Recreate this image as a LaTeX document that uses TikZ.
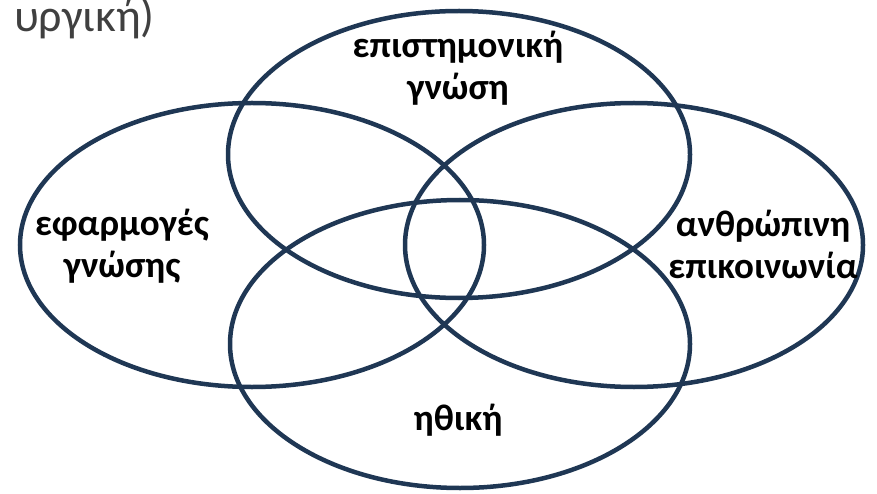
\documentclass[tikz,border=0pt]{standalone}
\usepackage{fontspec}
\setmainfont{Carlito}
\definecolor{ringcol}{RGB}{31,55,84}
\definecolor{titlegray}{RGB}{64,64,64}
\begin{document}
\begin{tikzpicture}[x=1pt,y=-1pt,
  ring/.style={draw=ringcol,line width=4.5pt},
  lbl/.style={font=\bfseries\fontsize{37}{42}\selectfont,align=center,inner sep=0pt,text=black}]
\useasboundingbox (0,0) rectangle (877,494);
\begin{scope}
\clip (0,0) rectangle (877,494);
\node[font=\fontsize{46}{52}\selectfont,text=titlegray,anchor=base east,inner sep=0pt] (title) at (155,32) {υργική)};
\end{scope}
\draw[ring] (459,154.5) ellipse [x radius=231, y radius=143.5];
\draw[ring] (252,245) ellipse [x radius=232, y radius=142];
\draw[ring] (634,245) ellipse [x radius=229, y radius=142];
\draw[ring] (460,344) ellipse [x radius=230, y radius=144];
\node[lbl,anchor=base] (sci) at (458,100) {επιστημονική\\γνώση};
\node[lbl,anchor=base] (app) at (122,277) {εφαρμογές\\γνώσης};
\node[lbl,anchor=base] (hum) at (763,278) {ανθρώπινη\\επικοινωνία};
\node[lbl,anchor=base] (eth) at (458,430) {ηθική};
\end{tikzpicture}
\end{document}
